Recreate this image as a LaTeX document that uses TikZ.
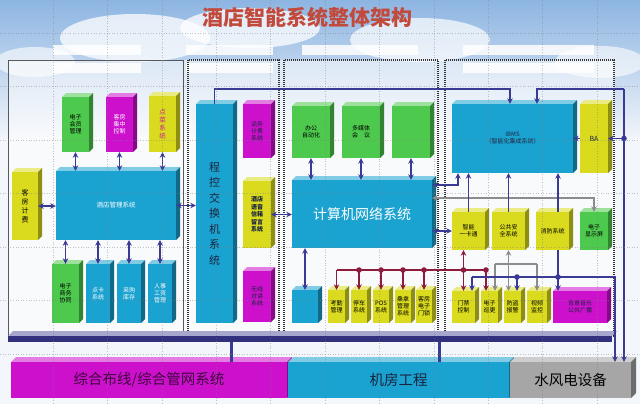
\documentclass[tikz,border=0pt]{standalone}
\usepackage{fontspec}
\setmainfont{Noto Sans CJK SC}
\usetikzlibrary{arrows.meta}
\definecolor{cblue}{HTML}{1AA2D0}
\definecolor{cgreen}{HTML}{4DC94D}
\definecolor{cmag}{HTML}{CC10CC}
\definecolor{cyel}{HTML}{DADA1E}
\definecolor{cgray}{HTML}{A6A6A6}
\definecolor{navy}{HTML}{3A3A94}
\definecolor{dred}{HTML}{8E1B3E}
\definecolor{lgray}{HTML}{8C8C8C}
\definecolor{titlered}{HTML}{C24A3C}
\definecolor{sky}{HTML}{8DB5E2}
\definecolor{bgc}{HTML}{F3F6FA}
\definecolor{dtext}{HTML}{1A2440}
\definecolor{pinktext}{HTML}{D0208A}
\def\dd{4}
\newcommand\hcube[8]{%
  \fill[#6!55!white] (#2,#3+\dd) -- (#2+\dd,#3) -- (#4,#3) -- (#4-\dd,#3+\dd) -- cycle;
  \fill[#6!65!black] (#4-\dd,#3+\dd) -- (#4,#3) -- (#4,#5-\dd) -- (#4-\dd,#5) -- cycle;
  \node[cfront, fill=#6, minimum width={(#4-\dd-(#2))*1pt}, minimum height={(#5-(#3)-\dd)*1pt}, #7]
    (#1) at ({(#2+#4-\dd)/2},{(#3+\dd+#5)/2}) {#8};
}
\begin{document}
\begin{tikzpicture}[x=1pt,y=-1pt,
  cfront/.style={inner sep=0pt, align=center, font=\fontsize{6}{7}\selectfont, text=black},
  dblarr/.style={{Stealth[length=5.5pt,width=5.5pt]}-{Stealth[length=5.5pt,width=5.5pt]}},
  onearr/.style={-{Stealth[length=5.5pt,width=5.5pt]}},
  nv/.style={navy, line width=1.9pt},
  rd/.style={dred, line width=1.7pt},
  gy/.style={lgray, line width=1.7pt},
  solidframe/.style={gray!70!black, line width=0.8pt},
  dotframe/.style={gray!40!black, line width=1.1pt, dash pattern=on 1pt off 1pt},
  gridl/.style={gray, dotted, line width=0.6pt, opacity=0.45},
  holder/.style={fill=white, opacity=0.85},
  big/.style={font=\fontsize{14.5}{16}\selectfont}
]
\useasboundingbox (0,0) rectangle (640,404);
% background
\fill[bgc] (0,0) rectangle (640,404);
\shade[top color=sky, bottom color=bgc] (0,0) rectangle (640,140);
\fill[white, opacity=0.75] (135,38) ellipse (75pt and 24pt);
\fill[white, opacity=0.75] (250,28) ellipse (70pt and 20pt);
\fill[white, opacity=0.7] (420,40) ellipse (70pt and 22pt);
\fill[white, opacity=0.6] (600,62) ellipse (45pt and 16pt);
\fill[white, opacity=0.6] (35,62) ellipse (40pt and 15pt);
% placeholders
\fill[holder] (53,45) rectangle (141,55);
\fill[holder] (186,45) rectangle (273,55);
\fill[holder] (302,45) rectangle (418,55);
\fill[holder] (463,45) rectangle (594,55);
\fill[holder] (53,63) rectangle (141,73);
\fill[holder] (186,63) rectangle (273,73);
\fill[holder] (463,63) rectangle (594,73);
% frames
\fill[white, opacity=0.5] (8,60) rectangle (614,336);
\draw[solidframe] (8,60) rectangle (183,336);
\draw[dotframe] (188,60) rectangle (279,336);
\draw[dotframe] (284,60) rectangle (438,336);
\draw[dotframe] (445,60) rectangle (614,336);
% slab
\fill[navy!45!white] (8,336) -- (13,331) -- (617,331) -- (612,336) -- cycle;
\node[fill=navy!85!black, inner sep=0pt, minimum width=604pt, minimum height=6pt] (slab) at (310,339) {};
% title
\node[font=\fontsize{21}{21}\selectfont\bfseries, text=titlered] (title) at (307,17) {酒店智能系统整体架构};
% left group
\hcube{kffj}{12}{168}{42}{240}{cyel}{font=\fontsize{7}{9}\selectfont}{客\\房\\计\\费}
\hcube{member}{62}{93}{93}{152}{cgreen}{}{电子\\会员\\管理}
\hcube{home}{106}{93}{137}{152}{cmag}{text=white}{客房\\集中\\控制}
\hcube{dish}{149}{92}{180}{152}{cyel}{text=pinktext, font=\fontsize{6.5}{8}\selectfont}{点\\菜\\系\\统}
\hcube{hms}{56}{167}{180}{240}{cblue}{text=white, font=\fontsize{6.5}{8}\selectfont}{酒店管理系统}
\hcube{ec}{52}{260}{83}{323}{cgreen}{}{电子\\商务\\协同}
\hcube{card}{86}{260}{114}{323}{cblue}{text=white}{点卡\\系统}
\hcube{stock}{117}{260}{145}{323}{cblue}{text=white}{采购\\库存}
\hcube{hr}{148}{260}{176}{323}{cblue}{text=white}{人事\\工资\\管理}
% group 2
\hcube{pbx}{196}{100}{237}{323}{cblue}{text=dtext, font=\fontsize{11}{15.5}\selectfont}{程\\控\\交\\换\\机\\系\\统}
\hcube{bill}{243}{100}{275}{158}{cmag}{text=dtext}{话务\\计费\\系统}
\hcube{voice}{243}{177}{275}{248}{cyel}{text=dtext, font=\fontsize{6}{7.5}\selectfont\bfseries}{酒店\\语音\\信箱\\留言\\系统}
\hcube{radio}{243}{267}{275}{322}{cmag}{text=dtext}{无线\\对讲\\系统}
% group 3
\hcube{oa}{292}{102}{334}{158}{cgreen}{}{办公\\自动化}
\hcube{mm}{342}{102}{384}{158}{cgreen}{}{多媒体\\会\quad 议}
\hcube{g3}{392}{102}{434}{158}{cgreen}{}{}
\hcube{net}{292}{176}{436}{248}{cblue}{text=white, font=\fontsize{14}{16}\selectfont}{计算机网络系统}
\hcube{sm}{292}{286}{322}{323}{cblue}{}{}
\hcube{kq}{328}{286}{349}{323}{cyel}{}{考勤\\管理}
\hcube{park}{351}{286}{371}{323}{cyel}{}{停车\\系统}
\hcube{pos}{373}{286}{393}{323}{cyel}{}{POS\\系统}
\hcube{sauna}{395}{286}{415}{323}{cyel}{}{桑拿\\管理\\系统}
\hcube{lock}{416}{286}{436}{323}{cyel}{}{客房\\电子\\门锁}
% group 4
\hcube{ibms}{452}{100}{577}{173}{cblue}{text=dtext}{IBMS\\（智能化集成系统）}
\hcube{ba}{580}{100}{612}{173}{cyel}{text=dtext, font=\fontsize{7}{8}\selectfont}{BA}
\hcube{card1}{452}{208}{489}{250}{cyel}{}{智能\\一卡通}
\hcube{pub}{492}{208}{529}{250}{cyel}{}{公共安\\全系统}
\hcube{fire}{536}{208}{573}{250}{cyel}{}{消防系统}
\hcube{led}{580}{208}{612}{250}{cgreen}{}{电子\\显示屏}
\hcube{door}{452}{287}{479}{323}{cyel}{}{门禁\\控制}
\hcube{patrol}{481}{287}{502}{323}{cyel}{}{电子\\巡更}
\hcube{alarm}{504}{287}{525}{323}{cyel}{}{防盗\\报警}
\hcube{cctv}{527}{287}{551}{323}{cyel}{}{视频\\监控}
\hcube{bgm}{553}{287}{611}{323}{cmag}{text=dtext}{背景音乐\\公共广播}
% bottom bars
\def\dd{5}
\hcube{zh}{11}{357}{292}{398}{cmag}{big, text=cmag!30!black}{综合布线/综合管网系统}
\hcube{jf}{288}{357}{514}{398}{cblue}{big, text=dtext}{机房工程}
\hcube{sf}{510}{357}{636}{398}{cgray}{big, text=black}{水风电设备}
\def\dd{4}
% coordinates
\coordinate (t1) at (510,89);
\coordinate (t2) at (537,89);
\coordinate (rt) at (624,89);
\coordinate (n1) at (458,185);
\coordinate (n2) at (0,198);
\coordinate (fx) at (558,0);
\coordinate (rb) at (0,270);
\coordinate (rx) at (486,0);
\coordinate (gb) at (0,264);
\coordinate (gx) at (495,0);
\coordinate (bb) at (0,277);
\coordinate (bx) at (615,0);
\coordinate (ax) at (517,0);
\coordinate (dx) at (472,0);
\coordinate (s1) at (231,0);
\coordinate (s2) at (439,0);
% slab to bars
\draw[navy, line width=3pt] (slab.south -| s1) -- (s1 |- zh.north);
\draw[navy, line width=3pt] (slab.south -| s2) -- (s2 |- jf.north);
% left group connectors
\draw[nv,dblarr] (member.south) -- (member.south |- hms.north);
\draw[nv,dblarr] (home.south) -- (home.south |- hms.north);
\draw[nv,dblarr] (dish.south) -- (dish.south |- hms.north);
\draw[nv,dblarr] (kffj.east) -- (kffj.east -| hms.west);
\foreach \b in {ec,card,stock,hr} \draw[nv,dblarr] (\b.north) -- (\b.north |- hms.south);
\draw[nv,dblarr] (hms.east) -- (hms.east -| pbx.west);
% group 2
\draw[nv,dblarr] (voice.east) -- (voice.east -| net.west);
\draw[nv,onearr] (pbx.north) |- (t1) -- (t1 |- ibms.north);
% group 3
\foreach \b in {oa,mm,g3} \draw[nv,dblarr] (\b.south) -- (\b.south |- net.north);
\draw[nv,dblarr] (sm.north) -- (sm.north |- net.south);
\draw[nv,dblarr] (net.east |- card1.west) -- (card1.west);
\draw[nv,dblarr] (net.east |- n1) -| (n1 |- ibms.south);
\draw[gy,dblarr] (net.east |- n2) -| (led.north);
% group 4
\draw[nv,onearr] (card1.north) -- (card1.north |- ibms.south);
\draw[nv,onearr] (pub.north) -- (pub.north |- ibms.south);
\draw[nv,onearr] (fire.north -| fx) -- (fx |- ibms.south);
\draw[nv,onearr] (rt) -- (t2) -- (t2 |- ibms.north);
\draw[nv,onearr] (rt) -- (rt |- sf.north);
\draw[nv,onearr] (rt |- ba.east) -- (ba.east);
\fill[navy] (rt |- ba.east) circle (2.8pt);
\draw[nv,onearr] (ba.west) -- (ba.west -| ibms.east);
% red bus
\draw[rd] (kq.north |- rb) -- (rx |- rb);
\foreach \b in {kq,park,pos,sauna,lock} \draw[rd,onearr] (\b.north |- rb) -- (\b.north);
\foreach \b in {park,pos,sauna,lock} \fill[dred] (\b.north |- rb) circle (2.8pt);
\draw[rd,dblarr] (door.north |- card1.south) -- (door.north);
\fill[dred] (door.north |- rb) circle (2.8pt);
\draw[rd,onearr] (rx |- rb) -- (rx |- patrol.north);
\fill[dred] (rx |- rb) circle (2.8pt);
% gray
\draw[gy,dblarr] (pub.south) -- (pub.south |- alarm.north);
\draw[gy] (gx |- gb) -- (cctv.north |- gb);
\draw[gy,onearr] (gx |- gb) -- (gx |- patrol.north);
\draw[gy,onearr] (cctv.north |- gb) -- (cctv.north);
% blue bus
\draw[nv,onearr] (dx |- bb) -- (bx |- bb) -- (bx |- sf.north);
\draw[nv,onearr] (dx |- bb) -- (dx |- door.north);
\draw[nv,onearr] (ax |- bb) -- (ax |- alarm.north);
\fill[navy] (ax |- bb) circle (2.8pt);
\draw[nv,onearr] (fire.south -| fx) -- (fx |- bgm.north);
\fill[navy] (fx |- bb) circle (2.8pt);
% grid overlay
\foreach \i in {0,...,10} \draw[gridl] ({53+54.4*\i},0) -- ({53+54.4*\i},404);
\foreach \j in {0,...,6} \draw[gridl] (0,{33+53.5*\j}) -- (640,{33+53.5*\j});
\end{tikzpicture}
\end{document}
